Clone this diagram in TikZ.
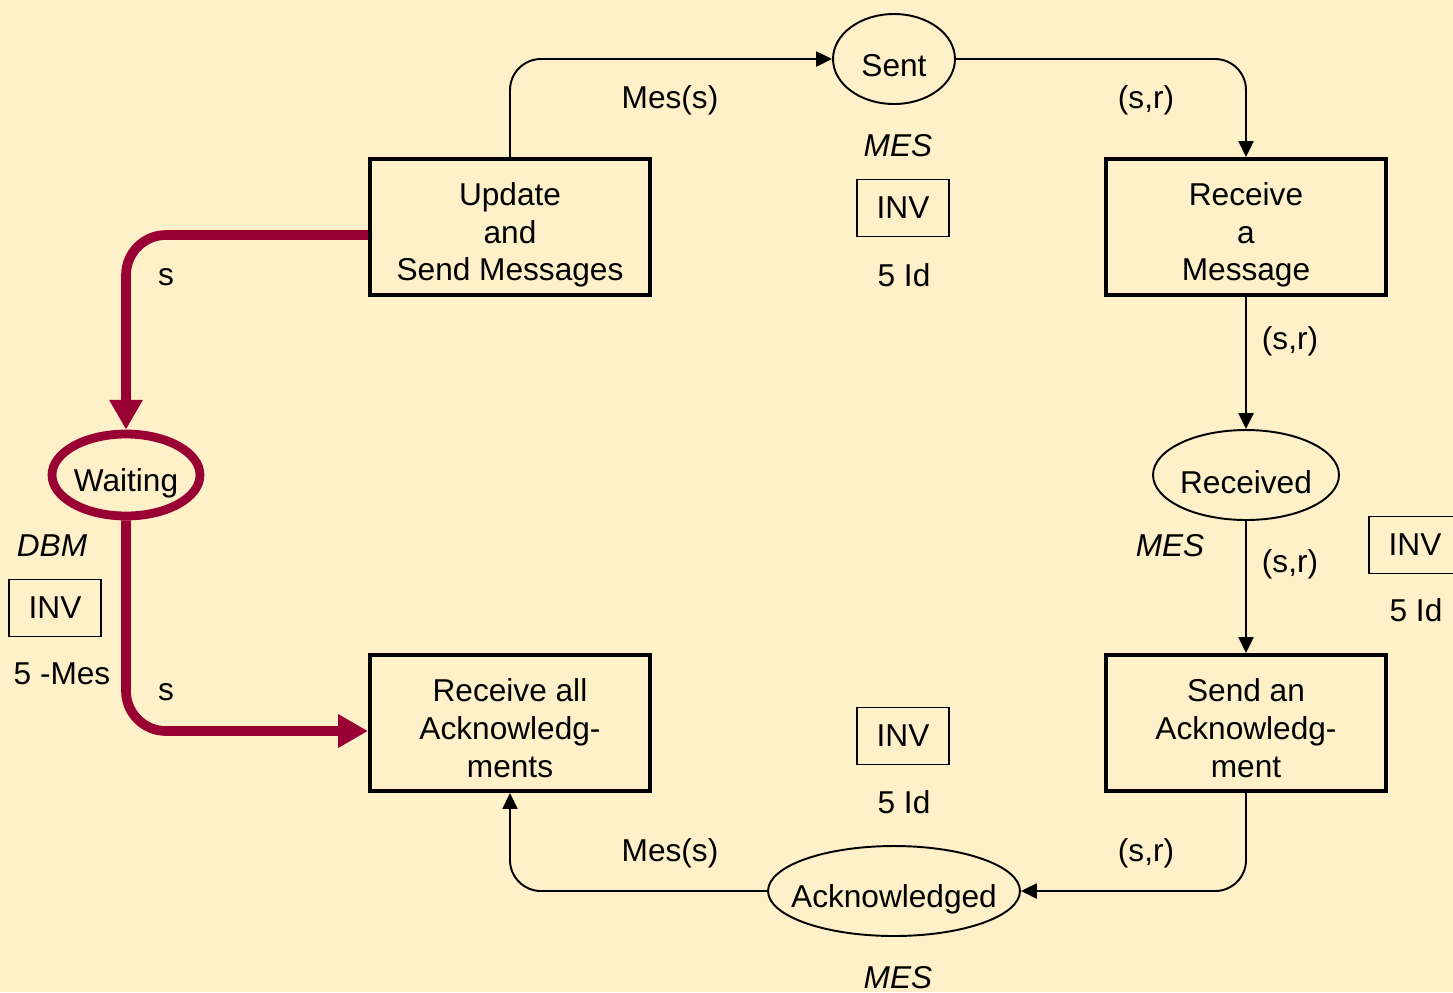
\documentclass[tikz,border=0pt]{standalone}
\usepackage{fontspec}
\setmainfont{Liberation Sans}
\usetikzlibrary{arrows.meta,shapes.geometric,calc}
\definecolor{bg}{RGB}{254,240,200}
\definecolor{crim}{RGB}{153,0,51}
\tikzset{
  txt/.style={font=\fontsize{18}{21.5}\selectfont, inner sep=0pt},
  trans/.style={draw, line width=2.3pt, minimum width=5.6cm, minimum height=2.72cm, inner sep=0pt},
  ttext/.style={txt, align=center},
  place/.style={draw, line width=1.1pt, ellipse, minimum height=1.8cm, inner sep=0pt},
  invbox/.style={txt, draw, line width=1.1pt, minimum width=1.84cm, minimum height=1.14cm},
  lbl/.style={txt},
  typ/.style={txt, font=\fontsize{18}{21.5}\selectfont\itshape},
  arc/.style={line width=1.1pt, rounded corners=0.62cm, -{Triangle[length=9pt,width=8.5pt]}},
  redarc/.style={line width=5.5pt, crim, rounded corners=0.8cm, -{Triangle[length=17pt,width=18pt]}}
}
\begin{document}
\begin{tikzpicture}[x=0.02cm,y=-0.02cm]
\clip (0,0) rectangle (1453,992);
\fill[bg] (0,0) rectangle (1453,992);
% transitions
\node[trans] (upd) at (510,227) {};
\node[ttext] (updt) at (510,235) {Update\\and\\Send Messages};
\node[trans] (rcv) at (1246,227) {};
\node[ttext] (rcvt) at (1246,235) {Receive\\a\\Message};
\node[trans] (rall) at (510,723) {};
\node[ttext] (rallt) at (510,728) {Receive all\\Acknowledg-\\ments};
\node[trans] (sack) at (1246,723) {};
\node[ttext] (sackt) at (1246,728) {Send an\\Acknowledg-\\ment};
% places
\node[place, minimum width=2.44cm] (sent) at (894,59) {};
\node[txt] (sentt) at (894,66) {Sent};
\node[place, minimum width=3.72cm] (recd) at (1246,475) {};
\node[txt] (recdt) at (1246,482) {Received};
\node[place, minimum width=5.04cm] (ackd) at (894,891) {};
\node[txt] (ackdt) at (894,899) {Acknowledged};
\node[draw=crim, line width=5pt, ellipse, minimum width=2.96cm, minimum height=1.64cm, inner sep=0pt] (wait) at (126,475) {};
\node[txt] (waitt) at (126,483) {Waiting};
% types and markings
\node[typ] (t1) at (898,146) {MES};
\node[invbox] (i1) at (903,208) {INV};
\node[lbl] (m1) at (904,275) {5 Id};
\node[invbox] (i2) at (903,736) {INV};
\node[lbl] (m2) at (904,802) {5 Id};
\node[typ] (t2) at (898,978) {MES};
\node[typ] (t3) at (1170,546) {MES};
\node[invbox] (i3) at (1415,545) {INV};
\node[lbl] (m3) at (1416,610) {5 Id};
\node[typ] (t4) at (52,546) {DBM};
\node[invbox] (i4) at (55,608) {INV};
\node[lbl] (m4) at (62,674) {5 -Mes};
% arcs
\draw[arc] (upd.north) |- (sent.west);
\draw[arc] (sent.east) -| (rcv.north);
\draw[arc] (rcv.south) -- (recd.north);
\draw[arc] (recd.south) -- (sack.north);
\draw[arc] (sack.south) |- (ackd.east);
\draw[arc] (ackd.west) -| (rall.south);
\draw[redarc] ($(upd.west)+(0,8)$) -| (wait.north);
\draw[redarc] (wait.south) |- ($(rall.west)+(0,8)$);
% arc labels
\node[lbl] (a1) at (670,100) {Mes(s)};
\node[lbl] (a2) at (1146,100) {(s,r)};
\node[lbl] (a3) at (1290,341) {(s,r)};
\node[lbl] (a4) at (1290,564) {(s,r)};
\node[lbl] (a5) at (1146,853) {(s,r)};
\node[lbl] (a6) at (670,853) {Mes(s)};
\node[lbl] (a7) at (166,277) {s};
\node[lbl] (a8) at (166,692) {s};
\end{tikzpicture}
\end{document}
